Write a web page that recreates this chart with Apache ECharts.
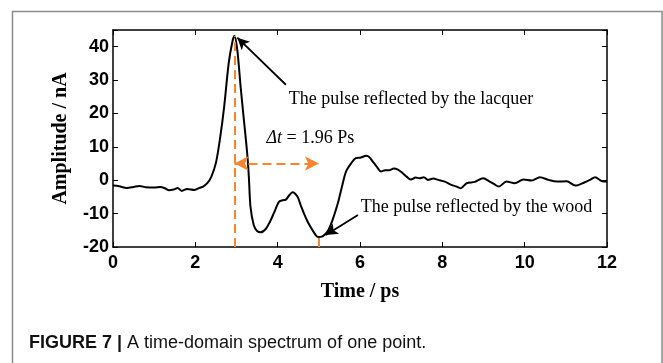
<!DOCTYPE html>
<html>
<head>
<meta charset="utf-8">
<script src="https://cdn.jsdelivr.net/npm/echarts@6/dist/echarts.min.js"></script>
<style>
  html, body { margin: 0; padding: 0; background: #fff; }
  #main { width: 663px; height: 363px; }
</style>
</head>
<body>
<div id="main"></div>
<script>
// 时间轴 (ps) 与幅值 (nA)
const time = [0, 0.15, 0.33, 0.5, 0.64, 0.8, 1.0, 1.15, 1.26, 1.36, 1.47, 1.57, 1.67, 1.8, 1.98,
  2.1, 2.19, 2.29, 2.39, 2.5, 2.6, 2.7, 2.81, 2.9, 2.95, 3.02, 3.1, 3.18, 3.26, 3.3, 3.34, 3.42,
  3.5, 3.59, 3.71, 3.81, 3.91, 4.03, 4.12, 4.2, 4.28, 4.36, 4.48, 4.56, 4.64, 4.72, 4.8, 4.9,
  4.98, 5.09, 5.21, 5.33, 5.46, 5.56, 5.66, 5.78, 5.9, 6.02, 6.15, 6.23, 6.31, 6.41, 6.51, 6.61,
  6.71, 6.82, 6.92, 7.04, 7.14, 7.24, 7.35, 7.45, 7.55, 7.65, 7.78, 7.9, 8.06, 8.22, 8.35, 8.45,
  8.59, 8.79, 8.99, 9.15, 9.26, 9.37, 9.56, 9.76, 9.97, 10.17, 10.37, 10.58, 10.78, 11.02, 11.23,
  11.46, 11.6, 11.71, 11.88, 12]
const amplitude = [-1.6, -1.8, -2.3, -2.0, -1.7, -2.1, -2.2, -2.0, -2.4, -3.0, -2.8, -2.3, -3.2, -2.6, -2.9,
  -2.3, -1.9, -0.9, 1.1, 5.2, 12.5, 22, 35, 41.5, 43.3, 39, 28, 18, 8, 1, -8, -13.5,
  -15.2, -15.6, -14.6, -12.5, -9.8, -6.5, -6.0, -5.8, -4.5, -3.6, -4.9, -7.5, -10, -12.2, -14, -16,
  -17.0, -16.8, -15.4, -12, -7, -2, 2.6, 5.0, 6.6, 6.8, 7.3, 6.9, 5.6, 4, 2.6, 3,
  3.0, 3.5, 3.2, 2.1, 1.0, 0.2, 0.8, 0.6, 0.9, 0.1, 0.5, 0.1, -0.4, -1.4, -1.9, -2.4,
  -0.9, -0.5, 0.6, -0.4, -1.2, -1.9, -0.4, -0.9, 0.2, -0.1, 0.9, 0.1, -0.4, -0.3, -1.6,
  -0.6, 0.2, 0.9, -0.3, -0.4]
// 坐标轴刻度
const xTicks = [0, 2, 4, 6, 8, 10, 12]
const yTicks = [-20, -10, 0, 10, 20, 30, 40]
const yMax = 45
// 两个脉冲位置与时间差
const lacquerPeak = [2.95, 43.3]
const woodDip = [5.0, -17.0]
const deltaY = 5

let myChart = echarts.init(document.getElementById('main'))
const orange = '#f7862f'
const serif = '"Liberation Serif", "Times New Roman", serif'
const sans = '"Liberation Sans", Arial, sans-serif'

function axisBase () {
    return {
        axisLine: { show: true, onZero: false, lineStyle: { color: '#000', width: 1.5 } },
        axisTick: { show: true, inside: true, length: 5, lineStyle: { color: '#000', width: 1 } },
        splitLine: { show: false }
    }
}

myChart.setOption({
    animation: false,
    backgroundColor: '#fff',
    grid: { left: 113, right: 56, top: 30, bottom: 116 },
    xAxis: [
        Object.assign(axisBase(), {
            type: 'value', min: xTicks[0], max: xTicks[xTicks.length - 1], interval: 2,
            name: 'Time / ps', nameLocation: 'middle', nameGap: 35,
            nameTextStyle: { fontFamily: serif, fontWeight: 'bold', fontSize: 20, color: '#000' },
            axisLabel: { fontFamily: sans, fontWeight: 'bold', fontSize: 18, color: '#000', margin: 7 }
        }),
        Object.assign(axisBase(), {
            type: 'value', position: 'top', min: xTicks[0], max: xTicks[xTicks.length - 1], interval: 2,
            axisLabel: { show: false }
        })
    ],
    yAxis: [
        Object.assign(axisBase(), {
            type: 'value', min: yTicks[0], max: yMax, interval: 10,
            name: 'Amplitude / nA', nameLocation: 'middle', nameGap: 42,
            nameTextStyle: { fontFamily: serif, fontWeight: 'bold', fontSize: 20, color: '#000' },
            axisLabel: {
                fontFamily: sans, fontWeight: 'bold', fontSize: 18, color: '#000', margin: 4,
                formatter: function (v) { return yTicks.indexOf(v) >= 0 ? v : '' }
            }
        }),
        Object.assign(axisBase(), {
            type: 'value', position: 'right', min: yTicks[0], max: yMax, interval: 10,
            axisLabel: { show: false }
        })
    ],
    series: [{
        type: 'line',
        data: time.map((t, i) => [t, amplitude[i]]),
        smooth: 0.3,
        symbol: 'none',
        lineStyle: { color: '#000', width: 2 },
        markLine: {
            silent: true,
            label: { show: false },
            symbol: ['none', 'none'],
            data: [
                [{ coord: [lacquerPeak[0], yTicks[0]] }, { coord: lacquerPeak }],
                [{ coord: [woodDip[0], yTicks[0]] }, { coord: woodDip }],
                [{ coord: [lacquerPeak[0], deltaY], symbol: 'arrow', symbolSize: [11, 14] },
                 { coord: [woodDip[0], deltaY], symbol: 'arrow', symbolSize: [11, 14] }]
            ],
            lineStyle: { color: orange, width: 2, type: [9, 5] }
        }
    }, {
        type: 'line',
        data: [],
        markLine: {
            silent: true,
            label: { show: false },
            data: [
                [{ coord: [4.2, 28.6], symbol: 'none' }, { coord: [3.02, 42.7], symbol: 'arrow', symbolSize: [9, 12] }],
                [{ coord: [5.95, -10.4], symbol: 'none' }, { coord: [5.17, -16.4], symbol: 'arrow', symbolSize: [9, 12] }]
            ],
            lineStyle: { color: '#000', width: 1.8, type: 'solid' }
        }
    }]
})

// 文字注释，用数据坐标定位
let p1 = myChart.convertToPixel({ gridIndex: 0 }, [4.27, 24.4])
let p2 = myChart.convertToPixel({ gridIndex: 0 }, [6.02, -8])
let p3 = myChart.convertToPixel({ gridIndex: 0 }, [3.73, 12.7])

myChart.setOption({
    graphic: [
        {
            type: 'rect', silent: true,
            shape: { x: 12.5, y: 11.5, width: 649.5, height: 400 },
            style: { fill: 'none', stroke: '#8a8a8a', lineWidth: 1.5 }
        },
        {
            type: 'text', x: p1[0], y: p1[1],
            style: { text: 'The pulse reflected by the lacquer', font: '18px ' + serif, fill: '#000', verticalAlign: 'middle' }
        },
        {
            type: 'text', x: p2[0], y: p2[1],
            style: { text: 'The pulse reflected by the wood', font: '18px ' + serif, fill: '#000', verticalAlign: 'middle' }
        },
        {
            type: 'text', x: p3[0], y: p3[1],
            style: {
                text: '{i|Δt} = 1.96 Ps', verticalAlign: 'middle', fill: '#000',
                font: '18px ' + serif,
                rich: { i: { fontStyle: 'italic', fontFamily: serif, fontSize: 18 } }
            }
        },
        {
            type: 'text', x: 29, y: 343,
            style: {
                text: '{b|FIGURE 7 |} A time-domain spectrum of one point.',
                font: '18px ' + sans, fill: '#111', verticalAlign: 'middle',
                rich: { b: { fontWeight: 'bold', fontFamily: sans, fontSize: 18 } }
            }
        }
    ]
})
</script>
</body>
</html>
